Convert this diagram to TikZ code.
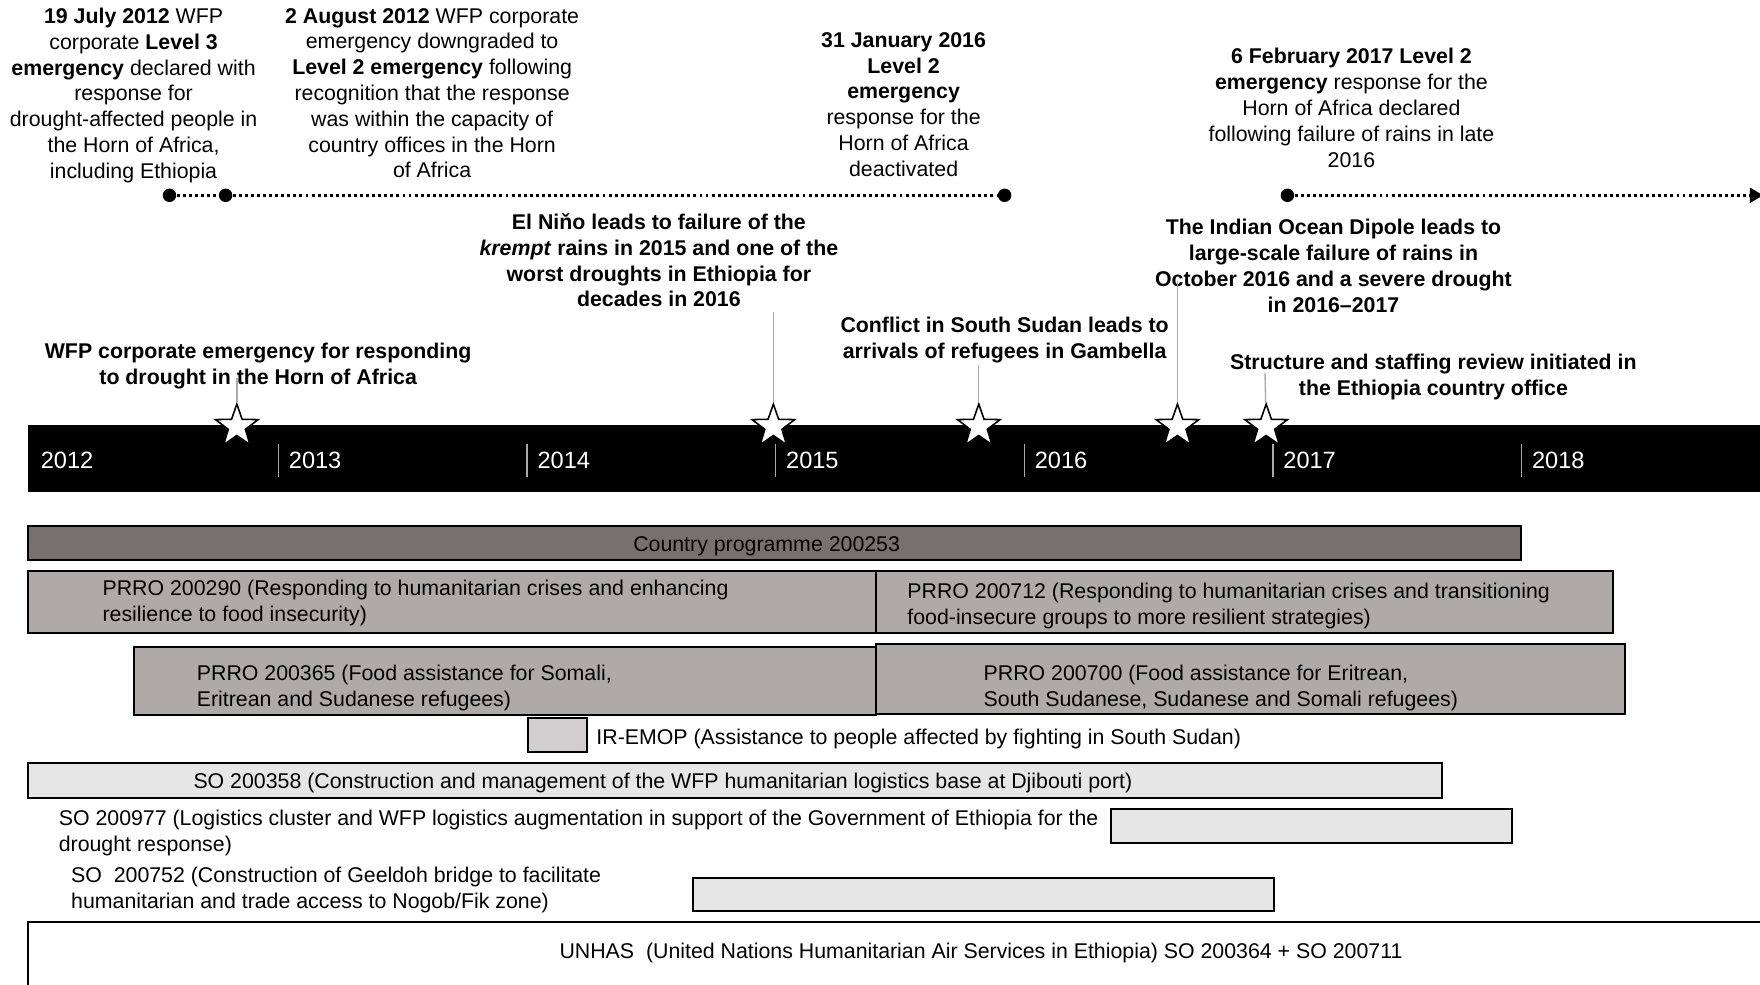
\documentclass[tikz,border=0pt]{standalone}
\usepackage{fontspec}
\setmainfont{Liberation Sans}
\usepackage{xcolor}
\usetikzlibrary{arrows.meta,shapes.geometric}

\definecolor{cpgray}{RGB}{118,113,113}
\definecolor{prrogray}{RGB}{174,170,170}
\definecolor{emopgray}{RGB}{208,206,206}
\definecolor{sogray}{RGB}{231,230,230}
\definecolor{stemgray}{RGB}{170,170,170}

\begin{document}
\begin{tikzpicture}[x=0.5pt, y=-0.5pt, every node/.style={font=\fontsize{9.5}{11.5}\selectfont}]
		\tikzstyle{event}=[align=center, inner sep=0pt]
		\tikzstyle{hit}=[align=center, inner sep=0pt, font=\fontsize{9.5}{11.5}\selectfont\bfseries]
		\tikzstyle{dot}=[circle, fill=black, minimum size=6pt, inner sep=0pt]
		\tikzstyle{dotline}=[line width=1.3pt, dash pattern=on 1.3pt off 1.4pt]
		\tikzstyle{milestone}=[star, star points=5, star point ratio=2.5, minimum size=20pt, inner sep=0pt, draw=black, fill=white, line width=0.7pt]
		\tikzstyle{stem}=[draw=stemgray, line width=0.6pt]
		\tikzstyle{prog}=[draw=black, line width=0.9pt]
		\tikzstyle{proglabel}=[align=left, anchor=west, inner sep=0pt]
		\tikzstyle{year}=[anchor=west, inner sep=0pt, text=white, font=\fontsize{10.5}{12}\selectfont]
		
		\useasboundingbox (0,0) rectangle (1568,877);
		
		% emergency levels
		\node[event] (d1) at (119,85)  {\textbf{19 July 2012} WFP\\corporate \textbf{Level 3}\\\textbf{emergency} declared with\\response for\\drought-affected people in\\the Horn of Africa,\\including Ethiopia};
		\node[event] (d2) at (385,83)  {\textbf{2 August 2012} WFP corporate\\emergency downgraded to\\\textbf{Level 2 emergency} following\\recognition that the response\\was within the capacity of\\country offices in the Horn\\of Africa};
		\node[event] (d3) at (805,93)  {\textbf{31 January 2016}\\\textbf{Level 2}\\\textbf{emergency}\\response for the\\Horn of Africa\\deactivated};
		\node[event] (d4) at (1204,96) {\textbf{6 February 2017 Level 2}\\\textbf{emergency} response for the\\Horn of Africa declared\\following failure of rains in late\\2016};
		
		\node[dot] (l1) at (151,174)  {};
		\node[dot] (l2) at (201,174)  {};
		\node[dot] (l3) at (895,174)  {};
		\node[dot] (l4) at (1147,174) {};
		\coordinate (lend) at (1571,174);
		
		\path[dotline]
		(l1) edge (l2)
		(l2) edge (l3)
		(l4) edge [-{Triangle[length=6pt,width=6.5pt]}] (lend)
		;
		
		% events
		\node[hit] (e1) at (587,232)  {El Niňo leads to failure of the\\\textit{krempt} rains in 2015 and one of the\\worst droughts in Ethiopia for\\decades in 2016};
		\node[hit] (e2) at (895,303)  {Conflict in South Sudan leads to\\arrivals of refugees in Gambella};
		\node[hit] (e3) at (1188,237) {The Indian Ocean Dipole leads to\\large-scale failure of rains in\\October 2016 and a severe drought\\in 2016--2017};
		\node[hit] (e4) at (230,326)  {WFP corporate emergency for responding\\to drought in the Horn of Africa};
		\node[hit] (e5) at (1277,336) {Structure and staffing review initiated in\\the Ethiopia country office};
		
		% time axis
		\fill[black] (25,379) rectangle (1590,438);
		\node[year] (y0) at (36,410) {2012};
		\foreach \yr [count=\i] in {2013,...,2018} {
			\draw[stem] (26.5+221.5*\i,396) -- (26.5+221.5*\i,425);
			\node[year] (y\i) at (35.5+221.5*\i,410) {\yr};
		}
		
		\coordinate (t1) at (211,337);
		\coordinate (t2) at (689,278);
		\coordinate (t3) at (872,325);
		\coordinate (t4) at (1049,250);
		\coordinate (t5) at (1127,332);
		
		\node[milestone] (s1) at (211,380)  {};
		\node[milestone] (s2) at (689,380)  {};
		\node[milestone] (s3) at (872,380)  {};
		\node[milestone] (s4) at (1049,380) {};
		\node[milestone] (s5) at (1128,380) {};
		
		\path[stem]
		(t1) edge (s1)
		(t2) edge (s2)
		(t3) edge (s3)
		(t4) edge (s4)
		(t5) edge (s5)
		;
		
		% operations
		\draw[prog, fill=cpgray]   (25,469)  rectangle (1355,499);
		\draw[prog, fill=prrogray] (25,509)  rectangle (780,564);
		\draw[prog, fill=prrogray] (780,509) rectangle (1437,564);
		\draw[prog, fill=prrogray] (119,576) rectangle (780,637);
		\draw[prog, fill=prrogray] (780,574) rectangle (1448,636);
		\draw[prog, fill=emopgray] (470,640) rectangle (523,670);
		\draw[prog, fill=sogray]   (25,680)  rectangle (1285,711);
		\draw[prog, fill=sogray]   (990,721) rectangle (1347,751);
		\draw[prog, fill=sogray]   (617,782) rectangle (1135,812);
		\draw[prog, fill=white]    (25,821)  rectangle (1600,900);
		
		\node[event]     (cp)  at (683,487) {Country programme 200253};
		\node[proglabel] (pr1) at (91,537)  {PRRO 200290 (Responding to humanitarian crises and enhancing\\resilience to food insecurity)};
		\node[proglabel] (pr2) at (808,540) {PRRO 200712 (Responding to humanitarian crises and transitioning\\food-insecure groups to more resilient strategies)};
		\node[proglabel] (pr3) at (175,613) {PRRO 200365 (Food assistance for Somali,\\Eritrean and Sudanese refugees)};
		\node[proglabel] (pr4) at (876,613) {PRRO 200700 (Food assistance for Eritrean,\\South Sudanese, Sudanese and Somali refugees)};
		\node[proglabel] (ir)  at (531,658) {IR-EMOP (Assistance to people affected by fighting in South Sudan)};
		\node[proglabel] (so1) at (172,698) {SO 200358 (Construction and management of the WFP humanitarian logistics base at Djibouti port)};
		\node[proglabel] (so2) at (52,742)  {SO 200977 (Logistics cluster and WFP logistics augmentation in support of the Government of Ethiopia for the\\drought response)};
		\node[proglabel] (so3) at (63,793)  {SO\ \ 200752 (Construction of Geeldoh bridge to facilitate\\humanitarian and trade access to Nogob/Fik zone)};
		\node[event]     (un)  at (874,849) {UNHAS\ \ (United Nations Humanitarian Air Services in Ethiopia) SO 200364 + SO 200711};
\end{tikzpicture}
\end{document}
